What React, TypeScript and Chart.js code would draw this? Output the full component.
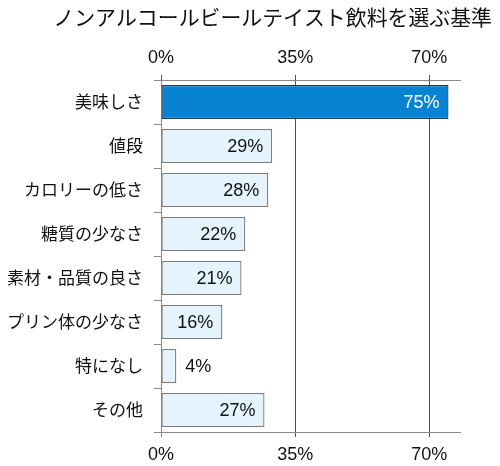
import React, { useEffect, useRef } from "react";
import { Chart, registerables } from "chart.js";

Chart.register(...registerables);

const TITLE = "ノンアルコールビールテイスト飲料を選ぶ基準";
const categories = [
  "美味しさ",
  "値段",
  "カロリーの低さ",
  "糖質の少なさ",
  "素材・品質の良さ",
  "プリン体の少なさ",
  "特になし",
  "その他",
];
const values = [75, 29, 28, 22, 21, 16, 4, 27];
const tickValues = [0, 35, 70];
const axisMax = 78;

const LATIN = '"Liberation Sans", Arial, sans-serif';
const CJK = '"Noto Sans CJK JP", "Noto Sans", sans-serif';

const titlePlugin = {
  id: "customTitle",
  afterDraw(chart: any) {
    const ctx = chart.ctx;
    ctx.save();
    ctx.font = `20.9px ${CJK}`;
    ctx.fillStyle = "#111111";
    ctx.textAlign = "right";
    ctx.textBaseline = "middle";
    ctx.fillText(TITLE, chart.width - 8, 17);
    ctx.restore();
  },
};

const valueLabels = {
  id: "valueLabels",
  afterDatasetsDraw(chart: any) {
    const meta = chart.getDatasetMeta(0);
    const ctx = chart.ctx;
    ctx.save();
    ctx.font = `18px ${LATIN}`;
    ctx.textBaseline = "middle";
    meta.data.forEach((bar: any, i: number) => {
      const v = values[i];
      const { x, y, base } = bar.getProps(["x", "y", "base"], true);
      const text = `${v}%`;
      const w = ctx.measureText(text).width;
      if (x - base > w + 18) {
        ctx.textAlign = "right";
        ctx.fillStyle = i === 0 ? "#ffffff" : "#111111";
        ctx.fillText(text, x - 9, y + 1);
      } else {
        ctx.textAlign = "left";
        ctx.fillStyle = "#111111";
        ctx.fillText(text, x + 9, y + 1);
      }
    });
    ctx.restore();
  },
};

export default function App() {
  const ref = useRef<HTMLCanvasElement | null>(null);

  useEffect(() => {
    if (!ref.current) return;
    const setTicks = (s: any) => {
      s.ticks = tickValues.map((v) => ({ value: v }));
    };
    const chart = new Chart(ref.current, {
      type: "bar",
      data: {
        labels: categories,
        datasets: [
          {
            data: values,
            backgroundColor: values.map((_, i) => (i === 0 ? "#0a82d2" : "#e4f3fc")),
            borderColor: values.map((_, i) => (i === 0 ? "#1d3f5e" : "#7f7f7f")),
            borderWidth: 1.3,
            borderSkipped: false,
            barPercentage: 0.77,
            categoryPercentage: 1,
          },
        ],
      },
      options: {
        indexAxis: "y",
        animation: false,
        responsive: false,
        maintainAspectRatio: false,
        layout: { padding: { left: 0, right: 40, top: 0, bottom: 0 } },
        plugins: {
          legend: { display: false },
          title: { display: false },
          tooltip: { enabled: false },
        },
        scales: {
          y: {
            position: "left",
            afterFit: (s: any) => {
              s.width = 161;
            },
            grid: {
              display: true,
              drawOnChartArea: false,
              drawTicks: true,
              tickLength: 7,
              color: "#8a8a8a",
              offset: true,
            },
            border: { display: true, color: "#8a8a8a", width: 1 },
            ticks: {
              padding: 11,
              color: "#111111",
              font: { family: CJK, size: 17 },
            },
          },
          x: {
            position: "bottom",
            min: 0,
            max: axisMax,
            afterBuildTicks: setTicks,
            afterFit: (s: any) => {
              s.height = 34;
            },
            grid: {
              display: true,
              drawOnChartArea: true,
              drawTicks: true,
              tickLength: 5,
              color: (c: any) => (c.tick && c.tick.value === 0 ? "#8a8a8a" : "#505050"),
            },
            border: { display: true, color: "#8a8a8a", width: 1 },
            ticks: {
              padding: 7,
              color: "#111111",
              font: { family: LATIN, size: 18 },
              callback: (v: any) => `${v}%`,
            },
          },
          x2: {
            type: "linear",
            position: "top",
            axis: "x",
            min: 0,
            max: axisMax,
            afterBuildTicks: setTicks,
            afterFit: (s: any) => {
              s.height = 80;
            },
            grid: {
              display: true,
              drawOnChartArea: false,
              drawTicks: true,
              tickLength: 5,
              color: "#505050",
            },
            border: { display: true, color: "#8a8a8a", width: 1 },
            ticks: {
              padding: 6,
              color: "#111111",
              font: { family: LATIN, size: 18 },
              callback: (v: any) => `${v}%`,
            },
          },
        },
      },
      plugins: [titlePlugin, valueLabels],
    } as any);
    return () => chart.destroy();
  }, []);

  return (
    <div style={{ position: "fixed", left: 0, top: 0, width: 500, height: 466, background: "#fff" }}>
      <canvas ref={ref} width={500} height={466} style={{ width: 500, height: 466 }} />
    </div>
  );
}
